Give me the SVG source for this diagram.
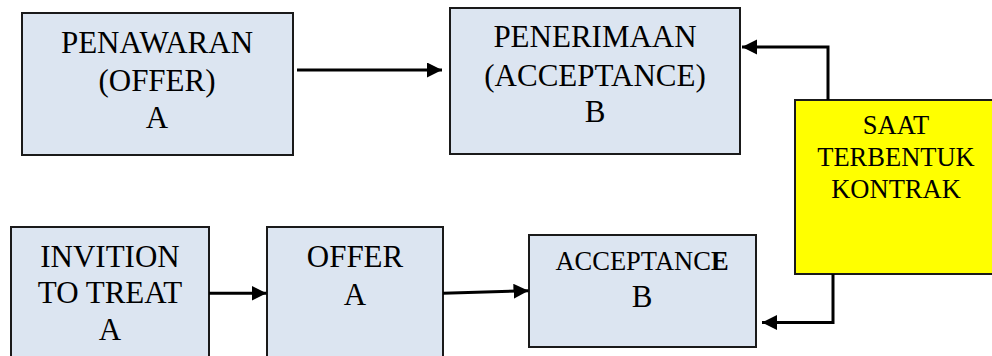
<svg xmlns="http://www.w3.org/2000/svg" width="992" height="356" viewBox="0 0 992 356">
<style>
.box{fill:#dce5f1;stroke:#1a1a1a;stroke-width:2}
.yel{fill:#ffff00;stroke:#1a1a1a;stroke-width:2}
text{font-family:'Liberation Serif','Times New Roman',serif;fill:#000;text-anchor:middle}
.big{font-size:31px}
.mid{font-size:26.5px}
.con{fill:none;stroke:#000;stroke-width:3}
</style>
<defs>
<marker id="ah" markerUnits="userSpaceOnUse" markerWidth="16" markerHeight="16" refX="15" refY="7.5" orient="auto">
<path d="M0,0 L15,7.5 L0,15 z" fill="#000"/>
</marker>
</defs>
<rect width="992" height="356" fill="#fff"/>
<g id="n-penawaran">
<rect class="box" x="22" y="13" width="271" height="142"/>
<text class="big" x="157" y="53">PENAWARAN</text>
<text class="big" x="157" y="90.5">(OFFER)</text>
<text class="big" x="157" y="128">A</text>
</g>
<g id="n-penerimaan">
<rect class="box" x="450" y="8" width="290" height="146"/>
<text class="big" x="595" y="46.5">PENERIMAAN</text>
<text class="big" x="595" y="86">(ACCEPTANCE)</text>
<text class="big" x="595" y="121.5">B</text>
</g>
<g id="n-saat">
<rect class="yel" x="795" y="100" width="204" height="174"/>
<text class="mid" x="896" y="134">SAAT</text>
<text class="mid" x="896" y="166">TERBENTUK</text>
<text class="mid" x="896" y="198">KONTRAK</text>
</g>
<g id="n-invition">
<rect class="box" x="11" y="227" width="198" height="140"/>
<text class="big" x="110" y="266.5">INVITION</text>
<text class="big" x="110" y="303">TO TREAT</text>
<text class="big" x="110" y="340">A</text>
</g>
<g id="n-offer">
<rect class="box" x="267" y="227" width="176" height="140"/>
<text class="big" x="355" y="266.5">OFFER</text>
<text class="big" x="355" y="305">A</text>
</g>
<g id="n-acceptance">
<rect class="box" x="529" y="235" width="227" height="112"/>
<text class="mid" x="642" y="270">ACCEPTANC<tspan font-weight="bold">E</tspan></text>
<text class="big" x="642" y="306.5">B</text>
</g>
<g id="connectors">
<path class="con" d="M297,70 L442,70" marker-end="url(#ah)"/>
<path class="con" d="M828,100 L828,47 L742,47" marker-end="url(#ah)"/>
<path class="con" d="M209,293.3 L266.5,293.3" marker-end="url(#ah)"/>
<path class="con" d="M443,293.3 L528.5,290.7" marker-end="url(#ah)"/>
<path class="con" d="M833,274 L833,322.5 L762,322.5" marker-end="url(#ah)"/>
</g>
</svg>
